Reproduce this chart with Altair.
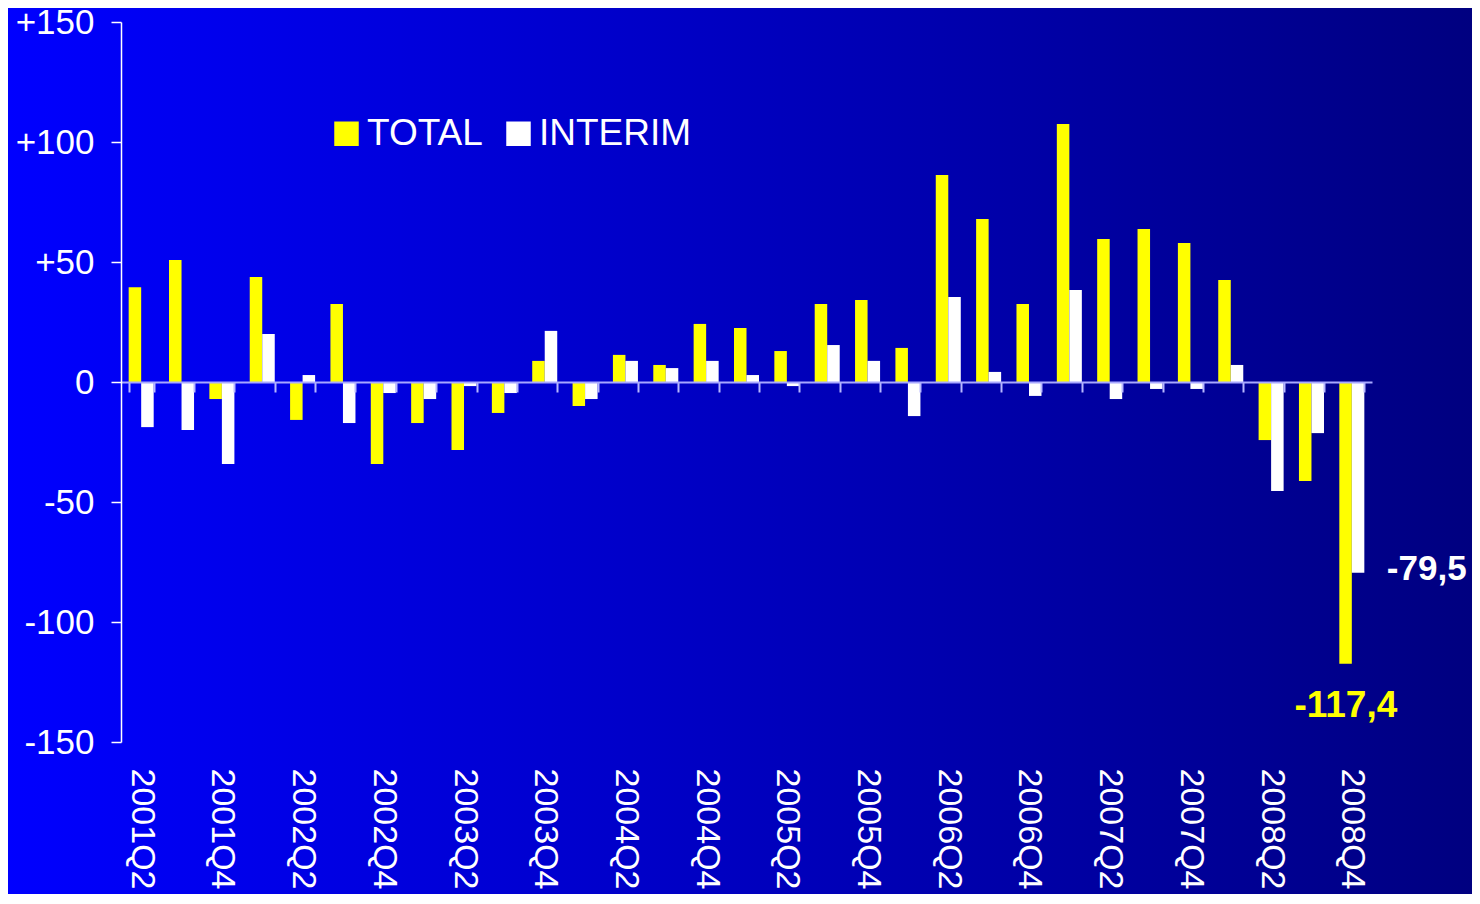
import altair as alt
import pandas as pd

quarters = [
    "2001Q2", "2001Q3", "2001Q4",
    "2002Q1", "2002Q2", "2002Q3", "2002Q4",
    "2003Q1", "2003Q2", "2003Q3", "2003Q4",
    "2004Q1", "2004Q2", "2004Q3", "2004Q4",
    "2005Q1", "2005Q2", "2005Q3", "2005Q4",
    "2006Q1", "2006Q2", "2006Q3", "2006Q4",
    "2007Q1", "2007Q2", "2007Q3", "2007Q4",
    "2008Q1", "2008Q2", "2008Q3", "2008Q4",
]
total = [39.5, 50.8, -7.1, 43.8, -15.8, 32.5, -34.2, -17.1, -28.3, -12.9, 8.8,
         -10.0, 11.3, 7.1, 24.2, 22.5, 12.9, 32.5, 34.2, 14.2, 86.3, 67.9, 32.5,
         107.5, 59.6, 63.8, 57.9, 42.5, -24.2, -41.3, -117.4]
interim = [-18.8, -20.0, -34.2, 20.0, 2.9, -17.1, -4.6, -7.1, -1.7, -4.6, 21.3,
           -7.1, 8.8, 5.8, 8.8, 2.9, -1.7, 15.4, 8.8, -14.2, 35.4, 4.2, -5.8,
           38.3, -7.1, -2.9, -2.9, 7.1, -45.4, -21.3, -79.5]
series = ["TOTAL", "INTERIM"]
series_colors = ["#FFFF00", "#FFFFFF"]
y_ticks = [-150, -100, -50, 0, 50, 100, 150]
last_total_label = "-117,4"
last_interim_label = "-79,5"

FONT = "Liberation Sans"
W, H = 1251, 720
PAD = {"left": 113, "top": 14, "right": 100, "bottom": 152}

rows = []
for q, t, i in zip(quarters, total, interim):
    rows.append({"quarter": q, "series": "TOTAL", "value": t})
    rows.append({"quarter": q, "series": "INTERIM", "value": i})
df = pd.DataFrame(rows)

bg = alt.Chart(alt.Data(values=[{}])).mark_rect(
    fill=alt.Gradient(
        gradient="linear",
        stops=[alt.GradientStop(color="#0000FF", offset=0),
               alt.GradientStop(color="#000080", offset=1)],
        x1=0, x2=1, y1=0, y2=0,
    )
).encode(
    x=alt.value(-PAD["left"]), x2=alt.value(W + PAD["right"]),
    y=alt.value(-PAD["top"]), y2=alt.value(H + PAD["bottom"]),
)

x_enc = alt.X(
    "quarter:N", sort=quarters,
    scale=alt.Scale(domain=quarters, paddingInner=0.38, paddingOuter=0.19),
    axis=alt.Axis(
        orient="bottom", offset=-H / 2, title=None,
        domain=True, domainColor="#A8A8FF", domainWidth=2,
        ticks=True, tickBand="extent", tickColor="#B8B8FF", tickSize=10, tickWidth=2,
        labelExpr="test(/Q[24]$/, datum.label) ? datum.label : ''",
        labelAngle=90, labelPadding=H / 2 + 16, labelFontSize=34, labelFont=FONT,
        labelColor="white", labelOverlap=False, labelBound=False, labelFlush=False,
        grid=False, zindex=1,
    ),
)
y_enc = alt.Y(
    "value:Q",
    scale=alt.Scale(domain=[-150, 150], nice=False, zero=False),
    axis=alt.Axis(
        values=y_ticks, title=None, grid=False,
        labelExpr="datum.value > 0 ? '+' + datum.value : '' + datum.value",
        labelFontSize=35, labelFont=FONT, labelColor="white", labelPadding=17,
        labelFlush=False,
        domainColor="white", domainWidth=1.5, tickColor="white", tickSize=10,
        tickWidth=1.5, zindex=1,
    ),
)

bars = alt.Chart(df).mark_bar().encode(
    x=x_enc,
    xOffset=alt.XOffset("series:N", sort=series, scale=alt.Scale(domain=series)),
    y=y_enc,
    color=alt.Color(
        "series:N",
        scale=alt.Scale(domain=series, range=series_colors),
        legend=alt.Legend(
            orient="none", legendX=207, legendY=93, direction="horizontal",
            title=None, symbolType="square", symbolSize=600, symbolStrokeWidth=0,
            labelFontSize=37, labelFont=FONT, labelColor="white",
            labelOffset=2, columnPadding=17, padding=0,
        ),
    ),
)

lab_df = pd.DataFrame([
    {"quarter": quarters[-1], "value": total[-1], "label": last_total_label},
    {"quarter": quarters[-1], "value": interim[-1], "label": last_interim_label},
])

lab_total = alt.Chart(lab_df.iloc[[0]]).mark_text(
    font=FONT, fontSize=37, fontWeight="bold", color="#FFFF00",
    align="center", baseline="middle", dx=-6, dy=42,
).encode(x=alt.X("quarter:N", sort=quarters), y="value:Q", text="label:N")

lab_interim = alt.Chart(lab_df.iloc[[1]]).mark_text(
    font=FONT, fontSize=35, fontWeight="bold", color="white",
    align="left", baseline="middle", dx=35, dy=-4,
).encode(x=alt.X("quarter:N", sort=quarters), y="value:Q", text="label:N")

chart = alt.layer(bg, bars, lab_total, lab_interim).properties(
    width=W, height=H,
    padding=PAD,
    autosize=alt.AutoSizeParams(type="none"),
).configure_view(stroke=None)

chart.save("out.html", embed_options={"renderer": "svg", "actions": False})
